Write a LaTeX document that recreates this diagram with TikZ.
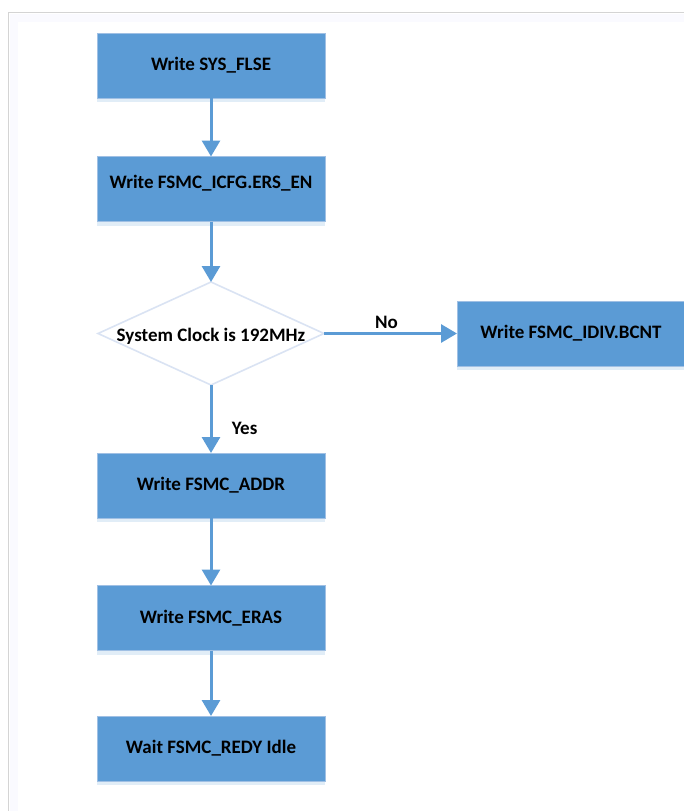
\documentclass[tikz,border=0pt]{standalone}
\usepackage{fontspec}
\setmainfont{Carlito}
\definecolor{stepblue}{RGB}{91, 155, 213}
\definecolor{stepedge}{RGB}{160, 192, 228}
\definecolor{decedge}{RGB}{218, 227, 243}
\definecolor{framegray}{RGB}{212, 212, 212}
\usetikzlibrary{shapes.geometric, arrows.meta, positioning, shadows}

\begin{document}
\begin{tikzpicture}[
      x=1pt, y=1pt,
      node distance=60pt,
      stepbox/.style={rectangle, draw=stepedge, fill=stepblue, line width=1pt, outer sep=0pt,
                      minimum height=65pt, minimum width=228pt, inner sep=0pt,
                      align=center, font=\fontsize{19}{21}\selectfont\bfseries,
                      drop shadow={shadow xshift=0pt, shadow yshift=-4pt, fill=stepblue, opacity=0.18}},
      decision/.style={diamond, draw=decedge, fill=white, line width=1.6pt, outer sep=0pt,
                       minimum width=226pt, minimum height=103pt, inner sep=0pt,
                       text height=1ex, text depth=0pt, aspect=2.2,
                       font=\fontsize{19}{21}\selectfont\bfseries},
      lbl/.style={font=\fontsize{19}{21}\selectfont\bfseries, text=black},
      arr/.style={-{Triangle[length=16pt, width=18pt]}, line width=3pt, stepblue}
    ]
      % Page frame
      \useasboundingbox (0,0) rectangle (684,-811);
      \draw[blue!2, line width=8pt] (14,-811) -- (14,-18) -- (684,-18);
      \draw[framegray, line width=1pt] (8,-811) -- (8,-12) -- (684,-12);

      % Main flow
      \node[stepbox] (flse) at (211,-65.5) {Write SYS\_FLSE};
      \node[stepbox, below=58.5pt of flse, text depth=14pt] (icfg) {Write FSMC\_ICFG.ERS\_EN};
      \node[decision, below=60.5pt of icfg] (clk) {\raisebox{-6pt}{System Clock is 192MHz}};
      \node[stepbox, right=133pt of clk] (idiv) {Write FSMC\_IDIV.BCNT};
      \node[stepbox, below=68pt of clk] (addr) {Write FSMC\_ADDR};
      \node[stepbox, below=67.5pt of addr] (eras) {Write FSMC\_ERAS};
      \node[stepbox, below=65.5pt of eras] (redy) {Wait FSMC\_REDY Idle};

      % Connectors
      \draw[arr] (flse) -- (icfg);
      \draw[arr] (icfg) -- (clk);
      \draw[arr] (clk) -- node[lbl, pos=0.47, above=0pt] {No} (idiv);
      \draw[arr] (clk) -- node[lbl, pos=0.64, right=16pt] {Yes} (addr);
      \draw[arr] (addr) -- (eras);
      \draw[arr] (eras) -- (redy);
\end{tikzpicture}
\end{document}
